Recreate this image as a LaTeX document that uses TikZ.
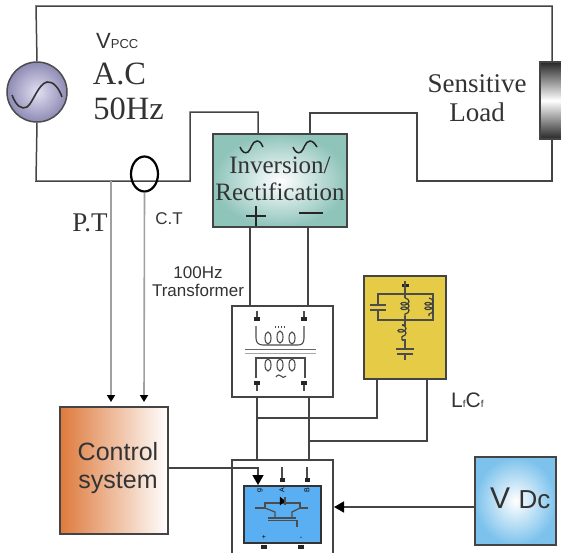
\documentclass[tikz,border=0pt]{standalone}
\usepackage{fontspec}
\setmainfont{Liberation Serif}
\setsansfont{Liberation Sans}
\usetikzlibrary{calc}
\usetikzlibrary{positioning}
\usetikzlibrary{shapes.geometric}
\usetikzlibrary{arrows.meta}
\usetikzlibrary{decorations.pathmorphing}
\definecolor{wirecol}{HTML}{444444}
\definecolor{inkcol}{HTML}{333333}
\definecolor{probecol}{HTML}{A0A0A0}
\definecolor{tealcol}{HTML}{8FC4BB}
\definecolor{orangecol}{HTML}{DE7A3C}
\definecolor{yellowcol}{HTML}{E6CB47}
\definecolor{bluecol}{HTML}{5AAEF2}
\definecolor{dccol}{HTML}{7CC2EC}
\definecolor{lilaccol}{HTML}{8E8BB5}
\definecolor{palecol}{HTML}{E2DFF2}
\tikzset{
	wire/.style={draw=wirecol, line width=1.5pt},
	probe/.style={draw=probecol, line width=1.6pt, -{Triangle[length=7pt,width=8pt,black]}},
	feed/.style={draw=wirecol, line width=1.5pt, -{Triangle[length=10pt,width=11pt,black]}},
	blockbox/.style={
		rectangle,
		draw=wirecol, line width=1.5pt,
		inner sep=0pt},
	fine/.style={draw=black!70, line width=1.1pt},
	coilpart/.style={
		draw=black!75, line width=1.2pt,
		decorate,
		decoration={coil, aspect=.6, amplitude=4pt, segment length=4.5pt}},
	pin/.style={rectangle, fill=black!85, minimum width=5pt, minimum height=4pt, inner sep=0pt},
	romantext/.style={text=inkcol, inner sep=0pt, align=center},
	sanstext/.style={text=inkcol, inner sep=0pt, align=center, font=\sffamily},
	wave/.style={draw=black!85, line width=1.5pt},
}
\newcommand{\fsize}[1]{\fontsize{#1}{#1}\selectfont}
\begin{document}
\begin{tikzpicture}[x=1pt,y=-1pt]
	\useasboundingbox (0,0) rectangle (561,552);

	% blocks
	\node[circle, draw=black!70, line width=1.5pt, inner color=palecol, outer color=lilaccol, minimum size=60pt, inner sep=0pt] (source) at (37,92) {};
	\node[blockbox, minimum width=22pt, minimum height=77pt, top color=black!85, bottom color=black!85, middle color=white] (load) at (551,100.5) {};
	\node[blockbox, minimum width=134pt, minimum height=93pt, inner color=white, outer color=tealcol] (inverter) at (280,180.5) {};
	\node[blockbox, minimum width=101pt, minimum height=91pt, fill=white] (transformer) at (282.5,351.5) {};
	\node[blockbox, minimum width=82pt, minimum height=103pt, fill=yellowcol] (filter) at (405,327.5) {};
	\node[blockbox, minimum width=108pt, minimum height=127pt, left color=orangecol, right color=white] (control) at (114,470.5) {};
	\node[blockbox, minimum width=101pt, minimum height=94pt, fill=white] (bridge) at (282.5,507) {};
	\node[blockbox, minimum width=77pt, minimum height=57pt, fill=bluecol, draw=black!80] (igbt) at (282.5,514.5) {};
	\node[blockbox, minimum width=81pt, minimum height=88pt, inner color=white, outer color=dccol] (vdc) at (515.5,501) {};

	% supply loop
	\coordinate (topleft) at (36,6);
	\coordinate (topright) at (552,6);
	\coordinate (lowleft) at (36,181);
	\coordinate (busend) at (190,181);
	\coordinate (acin) at (258,134);
	\coordinate (acout) at (310,134);
	\draw[wire] (source.north) -- (topleft) -- (topright) -- (load.north -| topright);
	\draw[wire] (load.south -| topright) -- (552,181) -- (417,181) -- (417,113) -- (310,113) -- (acout);
	\draw[wire] (source.south) -- (lowleft) -- (busend) -- (190,112) -- (258,112) -- (acin);

	% current transformer and measurement lines
	\node[ellipse, draw=black, line width=2.2pt, minimum width=27pt, minimum height=35pt, inner sep=0pt] (ct) at (144.5,174) {};
	\coordinate (ptin) at (111,402);
	\coordinate (ctin) at (144,402);
	\draw[probe] (111,181) -- (ptin);
	\draw[probe] (ct.south) -- (ctin);

	% dc side
	\coordinate (dcplus) at (250,227);
	\coordinate (dcminus) at (308,227);
	\coordinate (trpA) at (257,397);
	\coordinate (trpB) at (309,397);
	\draw[wire] (dcplus) -- (dcplus |- transformer.north);
	\draw[wire] (dcminus) -- (dcminus |- transformer.north);
	\draw[wire] (trpA) -- (trpA |- bridge.north);
	\draw[wire] (trpB) -- (trpB |- bridge.north);
	\draw[wire] (trpA |- 0,418) -- (377,418) -- (377,379);
	\draw[wire] (trpB |- 0,441) -- (427,441) -- (427,379);

	% control and source feeds
	\draw[feed] (control.east |- 0,468) -- (258,468) -- (258,485);
	\draw[feed] (vdc.west |- 0,507) -- (334,507);

	% terminals of the bridge
	\draw[fine, line width=1.2pt] (282,467) -- (282,479);
	\draw[fine, line width=1.2pt] (307,467) -- (307,479);
	\node[pin] (pinA) at (282,480) {};
	\node[pin] (pinB) at (307,480) {};
	\node[pin, minimum width=6pt] (pinP) at (264,547) {};
	\node[pin, minimum width=6pt] (pinN) at (301,547) {};
	\node[rotate=90, font=\sffamily\fsize{7}, inner sep=0pt] (lblg) at (260,490.5) {g};
	\node[rotate=90, font=\sffamily\fsize{7}, inner sep=0pt] (lbla) at (282,490.5) {A};
	\node[rotate=90, font=\sffamily\fsize{7}, inner sep=0pt] (lblb) at (307,490.5) {B};
	\node[font=\sffamily\fsize{7}, inner sep=0pt] (lblp) at (264,537) {+};
	\node[font=\sffamily\fsize{7}, inner sep=0pt] (lbln) at (301,538) {-};

	% switch symbol
	\draw[fine, line width=1.2pt] (255,508) -- (265,508) -- (265,503) -- (300,503) -- (300,508) -- (308,508);
	\draw[fill=black, draw=black] (280,497) -- (280,505) -- (285,501) -- cycle;
	\draw[fine, line width=1.2pt] (285,497) -- (285,505);
	\draw[fine, line width=1.2pt] (265,508) -- (275,512) -- (275,517);
	\draw[fine, line width=1.2pt] (300,508) -- (292,512) -- (292,517);
	\draw[fine, line width=1.6pt] (268,518) -- (296,518);
	\draw[fine, line width=1.6pt] (268,520.5) -- (297,520.5) -- (297,527);

	% transformer symbol
	\node[pin, minimum width=6pt] (pinTa) at (257,319) {};
	\node[pin, minimum width=6pt] (pinTb) at (304,319) {};
	\node[pin, minimum width=6pt] (pinTc) at (257,383) {};
	\node[pin, minimum width=6pt] (pinTd) at (304,383) {};
	\draw[fine] (pinTa.north) -- ++(0,-6);
	\draw[fine] (pinTb.north) -- ++(0,-6);
	\draw[fine] (pinTc.south) -- ++(0,6);
	\draw[fine] (pinTd.south) -- ++(0,6);
	\draw[fine] (256,326) -- (256,338) .. controls (256,343) and (259,345) .. (263,345) -- (298,345) .. controls (302,345) and (304,343) .. (304,338) -- (304,326);
	\draw[fine] (268,338) ellipse (3pt and 6pt);
	\draw[fine] (280,337) ellipse (3pt and 6pt);
	\draw[fine] (292,338) ellipse (3pt and 6pt);
	\draw[fine, dotted] (275,327) -- (285,327);
	\draw[draw=black!60, line width=1.1pt] (245,349.5) -- (316,349.5);
	\draw[draw=black!35, line width=1.3pt] (245,353.5) -- (316,353.5);
	\draw[fine] (256,378) -- (256,358) -- (305,358) -- (305,378);
	\draw[fine] (268,365) ellipse (3pt and 6pt);
	\draw[fine] (280,365) ellipse (3pt and 6pt);
	\draw[fine] (292,365) ellipse (3pt and 6pt);
	\draw[fine] (276,377) .. controls (278,374) and (280,375) .. (281,376) .. controls (282,378) and (284,378) .. (286,376);

	% filter symbol
	\node[pin, minimum width=7pt, minimum height=3pt] (pinF) at (405,285) {};
	\draw[fine] (405,281) -- (405,298);
	\draw[fine] (378,305) -- (378,294) -- (433,294) -- (433,320) -- (378,320) -- (378,310);
	\draw[fine, line width=1.3pt] (370,305) -- (386,305);
	\draw[fine, line width=1.3pt] (370,310) -- (386,310);
	\draw[coilpart] (405,298) -- (405,316);
	\draw[coilpart] (429,298) -- (429,316);
	\draw[fine] (405,316) -- (405,325) -- (402,325);
	\draw[coilpart] (402,325) -- (402,340);
	\draw[fine] (402,340) -- (405,340) -- (405,349);
	\draw[fine, line width=1.3pt] (396,349) -- (414,349);
	\draw[fine, line width=1.3pt] (397,354) -- (413,354);
	\draw[fine] (405,354) -- (405,360);

	% sine signs
	\draw[draw=black!80, line width=1.6pt] (12,95) .. controls (16,106) and (22,110) .. (27,107) .. controls (33,103) and (38,84) .. (47,82) .. controls (53,81) and (59,88) .. (62,97);
	\draw[wave] (240,147) .. controls (242,152) and (245,154) .. (248,152) .. controls (251,150) and (252,141) .. (257,141) .. controls (260,141) and (262,144) .. (263,147);
	\draw[wave] (293,147) .. controls (295,152) and (298,154) .. (301,152) .. controls (304,150) and (305,141) .. (310,141) .. controls (313,141) and (315,144) .. (317,147);
	\draw[black!85, line width=2.2pt] (246,216) -- (266,216);
	\draw[black!85, line width=2.2pt] (256,206) -- (256,226);
	\draw[black!85, line width=2.2pt] (299,213) -- (323,213);

	% labels
	\node[sanstext, anchor=base west] (vlabel) at (96,48) {\fsize{22}V\fsize{13}PCC};
	\node[romantext, font=\fsize{32.5}] (aclabel) at (119.5,74) {A.C};
	\node[romantext, font=\fsize{32.5}] (hzlabel) at (128.5,109) {50Hz};
	\node[romantext, font=\fsize{27}] (loadlabel) at (477,98.5) {Sensitive\\[2pt]Load};
	\node[romantext, font=\fsize{25}] (invlabel) at (280,179) {Inversion/\\[1.5pt]Rectification};
	\node[romantext, font=\fsize{27}] (ptlabel) at (90,223) {P.T};
	\node[sanstext, font=\sffamily\fsize{17}] (ctlabel) at (169,219) {C.T};
	\node[sanstext, font=\sffamily\fsize{17}] (txlabel) at (198,282) {100Hz\\[1pt]Transformer};
	\node[sanstext, font=\sffamily\fsize{25}, text=black!80] (ctrllabel) at (118,468) {Control\\[3pt]system};
	\node[sanstext, anchor=base west] (lclabel) at (451,407) {\fsize{21}L\fsize{10}f\fsize{21}C\fsize{10}f};
	\node[sanstext, anchor=base west] (dclabel) at (490,508) {\fsize{30}V \fsize{26}Dc};
\end{tikzpicture}
\end{document}
